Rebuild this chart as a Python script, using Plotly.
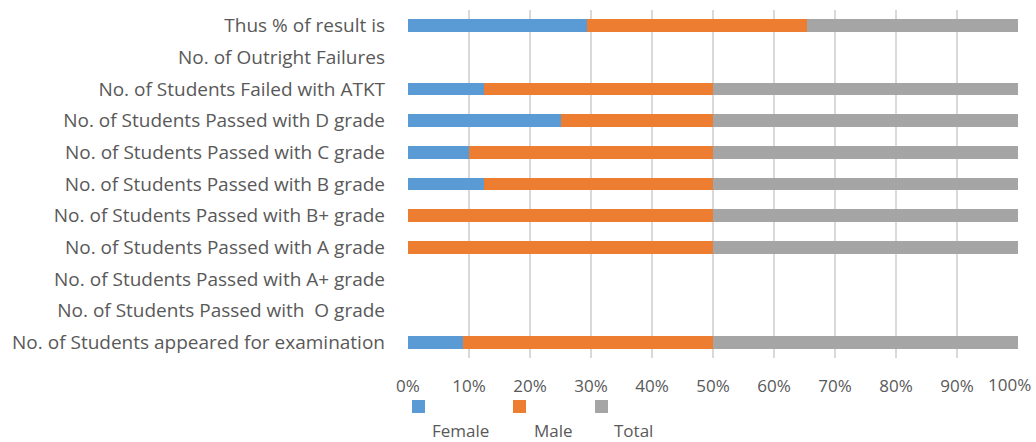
import plotly.graph_objects as go

categories = [
    "No. of Students appeared for examination",
    "No. of Students Passed with\u00a0 O grade",
    "No. of Students Passed with A+ grade",
    "No. of Students Passed with A grade",
    "No. of Students Passed with B+ grade",
    "No. of Students Passed with B grade",
    "No. of Students Passed with C grade",
    "No. of Students Passed with D grade",
    "No. of Students Failed with ATKT",
    "No. of Outright Failures",
    "Thus % of result is",
]
female = [4, 0, 0, 0, 0, 1, 1, 1, 1, 0, 85]
male = [18, 0, 0, 2, 1, 3, 4, 1, 3, 0, 104]
total = [22, 0, 0, 2, 1, 4, 5, 2, 4, 0, 100]

series_names = ["Female", "Male", "Total"]
series_values = [female, male, total]
colors = ["#5b9bd5", "#ed7d31", "#a5a5a5"]

tick_vals = list(range(0, 101, 10))
tick_labels = [f"{v}%" for v in tick_vals]

FONT = "Open Sans"
TXT = "#595959"

fig = go.Figure()
for name, vals, col in zip(series_names, series_values, colors):
    fig.add_trace(go.Bar(
        y=categories, x=vals, name=name, orientation="h",
        marker=dict(color=col, line=dict(width=0)),
        showlegend=False,
    ))

fig.update_layout(
    width=1036, height=442,
    barmode="stack", barnorm="percent", bargap=0.6,
    paper_bgcolor="white", plot_bgcolor="white",
    margin=dict(l=408, r=18, t=10, b=84),
    font=dict(family=FONT, color=TXT, size=17),
)
# last tick label is pulled inside the page edge, as in the reference
shown_ticktext = tick_labels[:-1] + [""]
fig.update_xaxes(
    range=[0, 100], tickvals=tick_vals, ticktext=shown_ticktext,
    showgrid=True, gridcolor="#d9d9d9", gridwidth=1.5, zeroline=False,
    showline=False, ticks="", tickfont=dict(size=17, color=TXT),
    ticklabelstandoff=16, ticklabeloverflow="allow",
    fixedrange=True, automargin=False,
)
fig.add_annotation(xref="x", yref="paper", x=tick_vals[-1], y=(358 - 384) / 348,
                   text=tick_labels[-1], showarrow=False, xanchor="right",
                   yanchor="middle", xshift=15,
                   font=dict(size=17, color=TXT, family=FONT))
fig.update_yaxes(
    showgrid=False, showline=False, ticks="", ticklabelstandoff=22,
    tickfont=dict(size=19, color=TXT), fixedrange=True, automargin=False,
)

# Legend drawn as in the reference: swatches above, labels below
legend_swatch_x = [412, 513, 595]
legend_text_x = [430, 532, 612]
for sx, tx, name, col in zip(legend_swatch_x, legend_text_x, series_names, colors):
    fig.add_shape(type="rect", xref="paper", yref="paper",
                  x0=(sx - 408) / 610, x1=(sx + 13 - 408) / 610,
                  y0=(358 - 413) / 348, y1=(358 - 400) / 348,
                  fillcolor=col, line=dict(width=0))
    fig.add_annotation(xref="paper", yref="paper",
                       x=(tx - 408) / 610, y=(358 - 430) / 348,
                       text=name, showarrow=False, xanchor="left", yanchor="middle",
                       font=dict(size=17, color=TXT, family=FONT))

fig.write_html(
    "out.html",
    config={"displayModeBar": False},
    post_script="document.body.style.margin='0';document.body.style.overflow='hidden';",
)
